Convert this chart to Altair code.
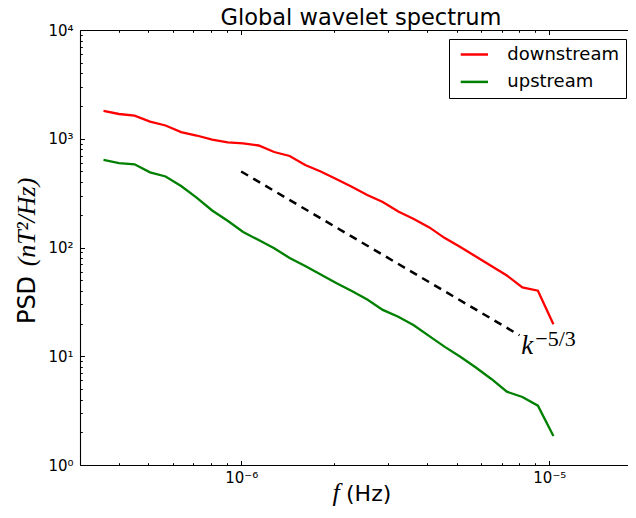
import altair as alt
import pandas as pd

# ---- data ----
freq = [3.576e-7, 4.015e-7, 4.510e-7, 5.063e-7, 5.686e-7, 6.385e-7, 7.169e-7, 8.052e-7,
        9.040e-7, 1.015e-6, 1.140e-6, 1.280e-6, 1.437e-6, 1.614e-6, 1.812e-6, 2.034e-6,
        2.285e-6, 2.566e-6, 2.881e-6, 3.235e-6, 3.633e-6, 4.079e-6, 4.580e-6, 5.143e-6,
        5.775e-6, 6.485e-6, 7.282e-6, 8.177e-6, 9.182e-6, 1.031e-5]
downstream = [1800, 1689, 1629, 1435, 1324, 1153, 1071, 984, 928, 908, 867, 755, 694, 574,
              500, 426, 362, 304, 262, 214, 183, 153, 122, 101, 82.6, 67.6, 55.3, 42.9,
              40.1, 19.7]
upstream = [638, 598, 582, 491, 450, 368, 287, 219, 176, 139, 117, 98.3, 80.1, 67.6, 56.4,
            47.2, 39.8, 33.2, 26.7, 23.1, 19.3, 15.3, 12.2, 9.88, 7.88, 6.18, 4.72, 4.22,
            3.51, 1.85]
series_names = ["downstream", "upstream"]
series_colors = ["#ff0000", "#008000"]

slope_f = [1e-6, 8e-6]
slope_psd = [500, 15.6]

annot_f = [8.1e-6, 9.0e-6]
annot_psd = [10.49, 12.43]
annot_text = ["k", "\u22125/3"]

x_major = [1e-6, 1e-5]
x_ticks = [4e-7, 5e-7, 6e-7, 7e-7, 8e-7, 9e-7, 1e-6, 2e-6, 3e-6, 4e-6, 5e-6, 6e-6,
           7e-6, 8e-6, 9e-6, 1e-5]
y_major = [1, 10, 100, 1000, 10000]
y_ticks = [m * d for d in [1, 10, 100, 1000] for m in range(1, 10)] + [10000]

title_text = "Global wavelet spectrum"
ylabel_parts = ["PSD", "(nT\u00b2/Hz)"]
xlabel_parts = ["f", "(Hz)"]

# ---- tables ----
lines_df = pd.DataFrame({
    "f": freq * 2,
    "psd": downstream + upstream,
    "series": [series_names[0]] * len(freq) + [series_names[1]] * len(freq),
})
slope_df = pd.DataFrame({"f": slope_f, "psd": slope_psd})
k_df = pd.DataFrame({"f": annot_f[:1], "psd": annot_psd[:1], "t": annot_text[:1]})
sup_df = pd.DataFrame({"f": annot_f[1:], "psd": annot_psd[1:], "t": annot_text[1:]})

W, H = 548, 435
SANS = "DejaVu Sans"
SERIF = "Liberation Serif"

xscale = alt.Scale(type="log", domain=[3e-7, 1.80e-5], nice=False)
yscale = alt.Scale(type="log", domain=[1, 10000], nice=False)

major_test = "abs(log(datum.value)/LN10 - round(log(datum.value)/LN10)) < 0.001"
tick_size = {"condition": {"test": major_test, "value": 4.5}, "value": 2.3}

x_label_expr = "datum.value < 3e-6 ? '10\u207b\u2076' : '10\u207b\u2075'"
y_label_expr = ("['10\u2070','10\u00b9','10\u00b2','10\u00b3','10\u2074']"
                "[round(log(datum.value)/LN10)]")

main_x = alt.Axis(orient="bottom", values=x_major, labelExpr=x_label_expr, ticks=False,
                  tickSize=0, labelPadding=5, domain=True, domainColor="black",
                  domainWidth=1.1, grid=False, title=None, labelFont=SANS,
                  labelFontSize=15, labelColor="black")
main_y = alt.Axis(orient="left", values=y_major, labelExpr=y_label_expr, ticks=False,
                  tickSize=0, labelPadding=7, domain=True, domainColor="black",
                  domainWidth=1.1, grid=False, title=None, labelFont=SANS,
                  labelFontSize=15, labelColor="black")

lines = alt.Chart(lines_df).mark_line(strokeWidth=2.3).encode(
    x=alt.X("f:Q", scale=xscale, axis=main_x),
    y=alt.Y("psd:Q", scale=yscale, axis=main_y),
    color=alt.Color("series:N",
                    scale=alt.Scale(domain=series_names, range=series_colors),
                    legend=alt.Legend(title=None, orient="none", legendX=369, legendY=9,
                                      direction="vertical",
                                      symbolType="M-0.49,0H3.034",
                                      symbolSize=240, symbolStrokeWidth=2.5,
                                      symbolFillColor="transparent",
                                      labelFont=SANS, labelFontSize=18,
                                      labelColor="black", labelOffset=33.8,
                                      strokeColor="black", fillColor="white",
                                      padding=6.5, rowPadding=9.4, cornerRadius=0)),
)

# inward ticks at bottom / left edges
slope = alt.Chart(slope_df).mark_line(color="black", strokeDash=[8, 6],
                                      strokeWidth=2.5).encode(
    x=alt.X("f:Q", scale=xscale,
            axis=alt.Axis(orient="top", offset=-H, values=x_ticks, labels=False,
                          domain=False, ticks=True, tickSize=tick_size,
                          tickColor="black", tickWidth=1, grid=False, title=None)),
    y=alt.Y("psd:Q", scale=yscale,
            axis=alt.Axis(orient="right", offset=-W, values=y_ticks, labels=False,
                          domain=False, ticks=True, tickSize=tick_size,
                          tickColor="black", tickWidth=1, grid=False, title=None)),
)

# top spine with inward ticks
k_text = alt.Chart(k_df).mark_text(font=SERIF, fontStyle="italic", fontSize=27,
                                   align="left", baseline="alphabetic",
                                   color="black").encode(
    x=alt.X("f:Q", scale=xscale,
            axis=alt.Axis(orient="bottom", offset=-H, values=x_ticks, labels=False,
                          domain=True, domainColor="black", domainWidth=1.1,
                          ticks=True, tickSize=tick_size, tickColor="black",
                          tickWidth=1, grid=False, title=None)),
    y=alt.Y("psd:Q", scale=yscale, axis=None),
    text="t:N",
)
sup_text = alt.Chart(sup_df).mark_text(font=SERIF, fontSize=22, align="left",
                                       baseline="alphabetic", color="black").encode(
    x=alt.X("f:Q", scale=xscale, axis=None),
    y=alt.Y("psd:Q", scale=yscale, axis=None),
    text="t:N",
)

label_df = pd.DataFrame({"t": [title_text] + ylabel_parts + xlabel_parts})
title_lbl = alt.Chart(label_df.iloc[[0]]).mark_text(
    font=SANS, fontSize=22.5, align="center", baseline="alphabetic",
    color="black").encode(x=alt.value(281), y=alt.value(-5), text="t:N")
psd_lbl = alt.Chart(label_df.iloc[[1]]).mark_text(
    font=SANS, fontSize=24, angle=270, align="center", baseline="alphabetic",
    color="black").encode(x=alt.value(-45), y=alt.value(270), text="t:N")
unit_lbl = alt.Chart(label_df.iloc[[2]]).mark_text(
    font=SERIF, fontStyle="italic", fontSize=26, angle=270, align="center",
    baseline="alphabetic", color="black").encode(x=alt.value(-45), y=alt.value(192),
                                                 text="t:N")
f_lbl = alt.Chart(label_df.iloc[[3]]).mark_text(
    font=SERIF, fontStyle="italic", fontSize=26, align="center", baseline="alphabetic",
    color="black").encode(x=alt.value(256), y=alt.value(471), text="t:N")
hz_lbl = alt.Chart(label_df.iloc[[4]]).mark_text(
    font=SANS, fontSize=22, align="left", baseline="alphabetic",
    color="black").encode(x=alt.value(266), y=alt.value(471), text="t:N")

chart = alt.layer(lines, slope, k_text, sup_text, title_lbl, psd_lbl, unit_lbl, f_lbl,
                  hz_lbl).properties(
    width=W, height=H,
    padding={"left": 72, "top": 22, "right": 0, "bottom": 41},
    autosize=alt.AutoSizeParams(type="none"),
).resolve_axis(x="independent", y="independent").configure_view(stroke=None)

chart.save("out.html", embed_options={"renderer": "svg", "actions": False})
